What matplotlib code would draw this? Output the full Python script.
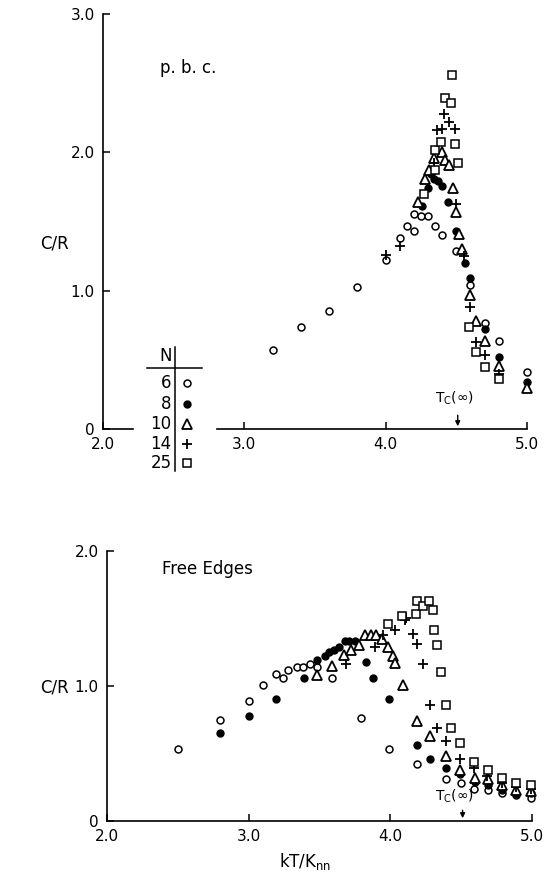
import matplotlib
matplotlib.use("Agg")
import matplotlib.pyplot as plt

plt.rcParams['font.family'] = ['DejaVu Sans']

# periodic boundary conditions (top panel)
t6_x = [3.2, 3.4, 3.6, 3.8, 4.0, 4.1, 4.15, 4.2, 4.2, 4.25, 4.3, 4.35, 4.4, 4.5, 4.6, 4.7, 4.8, 5.0]
t6_y = [0.57, 0.74, 0.85, 1.03, 1.22, 1.38, 1.47, 1.555, 1.43, 1.54, 1.54, 1.47, 1.40, 1.29, 1.04, 0.77, 0.64, 0.41]
t8_x = [4.26, 4.30, 4.32, 4.34, 4.37, 4.40, 4.44, 4.50, 4.56, 4.60, 4.70, 4.80, 5.0]
t8_y = [1.61, 1.74, 1.84, 1.81, 1.79, 1.76, 1.64, 1.43, 1.20, 1.09, 0.72, 0.52, 0.34]
t10_x = [4.23, 4.28, 4.31, 4.34, 4.40, 4.42, 4.45, 4.475, 4.50, 4.52, 4.54, 4.60, 4.64, 4.70, 4.80, 5.0]
t10_y = [1.64, 1.81, 1.87, 1.96, 2.00, 1.945, 1.91, 1.74, 1.57, 1.41, 1.30, 0.97, 0.78, 0.64, 0.455, 0.30]
t14_x = [4.0, 4.1, 4.34, 4.36, 4.40, 4.41, 4.45, 4.49, 4.50, 4.555, 4.60, 4.64, 4.70, 4.80]
t14_y = [1.26, 1.325, 1.92, 2.16, 2.17, 2.28, 2.22, 2.17, 1.63, 1.25, 0.88, 0.63, 0.535, 0.40]
t25_x = [4.27, 4.35, 4.35, 4.39, 4.42, 4.46, 4.47, 4.49, 4.51, 4.59, 4.64, 4.70, 4.80]
t25_y = [1.70, 1.87, 2.02, 2.075, 2.39, 2.36, 2.56, 2.06, 1.92, 0.735, 0.56, 0.45, 0.365]

# free edges (bottom panel)
b6_x = [2.5, 2.8, 3.0, 3.1, 3.19, 3.24, 3.28, 3.34, 3.38, 3.43, 3.48, 3.59, 3.79, 3.99,
        4.19, 4.39, 4.5, 4.59, 4.69, 4.79, 4.89, 4.99]
b6_y = [0.53, 0.75, 0.89, 1.01, 1.09, 1.06, 1.12, 1.14, 1.14, 1.165, 1.14, 1.06, 0.76, 0.53,
        0.42, 0.31, 0.28, 0.24, 0.23, 0.205, 0.19, 0.17]
b8_x = [2.8, 3.0, 3.19, 3.39, 3.48, 3.54, 3.57, 3.60, 3.64, 3.68, 3.71, 3.75, 3.83, 3.88, 3.99,
        4.19, 4.28, 4.39, 4.49, 4.6, 4.69, 4.79, 4.89, 4.99]
b8_y = [0.65, 0.78, 0.90, 1.06, 1.19, 1.22, 1.25, 1.27, 1.29, 1.33, 1.335, 1.335, 1.175, 1.06, 0.90,
        0.56, 0.46, 0.39, 0.35, 0.29, 0.27, 0.23, 0.20, 0.21]
b10_x = [3.48, 3.59, 3.67, 3.72, 3.78, 3.82, 3.86, 3.90, 3.94, 3.98, 4.02, 4.03, 4.09, 4.19,
         4.28, 4.39, 4.49, 4.6, 4.69, 4.79, 4.89, 4.99]
b10_y = [1.08, 1.15, 1.23, 1.27, 1.30, 1.38, 1.38, 1.38, 1.35, 1.29, 1.22, 1.17, 1.005, 0.74,
         0.63, 0.48, 0.38, 0.32, 0.31, 0.27, 0.23, 0.22]
b14_x = [3.69, 3.89, 3.945, 4.03, 4.10, 4.11, 4.16, 4.19, 4.23, 4.28, 4.33, 4.39, 4.49, 4.59,
         4.68, 4.79, 4.89, 4.99]
b14_y = [1.16, 1.29, 1.38, 1.415, 1.49, 1.50, 1.385, 1.31, 1.16, 0.86, 0.69, 0.595, 0.46, 0.39,
         0.33, 0.28, 0.25, 0.235]
b25_x = [3.98, 4.08, 4.18, 4.19, 4.23, 4.27, 4.30, 4.31, 4.33, 4.36, 4.39, 4.43, 4.49, 4.59,
         4.69, 4.79, 4.89, 4.99]
b25_y = [1.46, 1.52, 1.53, 1.63, 1.59, 1.63, 1.56, 1.415, 1.30, 1.10, 0.86, 0.69, 0.575, 0.44,
         0.38, 0.32, 0.28, 0.27]

sizes = ["6", "8", "10", "14", "25"]
tc = 4.51

# marker styles per lattice size
estilos = [
    dict(marker="o", mfc="white", mec="black", ms=5, mew=1.1),
    dict(marker="o", mfc="black", mec="black", ms=5, mew=1.0),
    dict(marker="^", mfc="white", mec="black", ms=7, mew=1.3),
    dict(marker="+", mfc="none", mec="black", ms=7, mew=1.3),
    dict(marker="s", mfc="white", mec="black", ms=6, mew=1.1),
]

fig = plt.figure(figsize=(5.47, 8.81), dpi=100)
ax1 = fig.add_axes([0.1883, 0.5130, 0.7751, 0.4711])
ax2 = fig.add_axes([0.1956, 0.0681, 0.7770, 0.3065])


def estilo_ejes(ax, ymax):
    ax.set_xlim(2.0, 5.0)
    ax.set_ylim(0, ymax)
    for s in ["top", "right"]:
        ax.spines[s].set_visible(False)
    for s in ["left", "bottom"]:
        ax.spines[s].set_linewidth(1.2)
    ax.set_xticks([2.0, 3.0, 4.0, 5.0])
    ax.set_xticklabels(["2.0", "3.0", "4.0", "5.0"])
    yt = list(range(0, int(ymax) + 1))
    ax.set_yticks(yt)
    ax.set_yticklabels(["0"] + ["%.1f" % v for v in yt[1:]])
    ax.tick_params(direction="in", length=5, width=1.1, labelsize=11, pad=6)


estilo_ejes(ax1, 3.0)
estilo_ejes(ax2, 2.0)

datos_top = [(t6_x, t6_y), (t8_x, t8_y), (t10_x, t10_y), (t14_x, t14_y), (t25_x, t25_y)]
datos_bot = [(b6_x, b6_y), (b8_x, b8_y), (b10_x, b10_y), (b14_x, b14_y), (b25_x, b25_y)]
for (x, y), st in zip(datos_top, estilos):
    ax1.plot(x, y, ls="none", clip_on=False, **st)
for (x, y), st in zip(datos_bot, estilos):
    ax2.plot(x, y, ls="none", clip_on=False, **st)

# top x axis is broken by the legend table
ax1.spines["bottom"].set_visible(False)
ax1.plot([2.0, 2.21], [0, 0], color="black", lw=1.2, clip_on=False)
ax1.plot([2.807, 5.0], [0, 0], color="black", lw=1.2, clip_on=False)

# legend table
ax1.plot([2.51, 2.51], [0.59, -0.30], color="black", lw=1.1, clip_on=False)
ax1.plot([2.31, 2.70], [0.44, 0.44], color="black", lw=1.1, clip_on=False)
ax1.text(2.44, 0.525, "N", ha="center", va="center", fontsize=12)
filas = [0.333, 0.181, 0.036, -0.108, -0.246]
for lab, yy, st in zip(sizes, filas, estilos):
    ax1.text(2.485, yy, lab, ha="right", va="center", fontsize=12, clip_on=False)
    ax1.plot([2.595], [yy], ls="none", clip_on=False, **st)

ax1.text(2.40, 2.61, "p. b. c.", fontsize=12, va="center")
ax2.text(2.39, 1.87, "Free Edges", fontsize=12, va="center")

fig.text(0.100, 1 - 243 / 881, "C/R", fontsize=12, ha="center", va="center")
fig.text(0.100, 1 - 688 / 881, "C/R", fontsize=12, ha="center", va="center")

ax1.annotate("", xy=(tc, 0), xytext=(tc, 0.12),
             arrowprops=dict(arrowstyle="-|>", color="black", lw=1.0, mutation_scale=7))
ax1.text(tc - 0.02, 0.16, r"T$_{\rm C}$(∞)", ha="center", va="bottom", fontsize=10)
ax2.annotate("", xy=(tc, 0), xytext=(tc, 0.10),
             arrowprops=dict(arrowstyle="-|>", color="black", lw=1.0, mutation_scale=7))
ax2.text(tc - 0.06, 0.12, r"T$_{\rm C}$(∞)", ha="center", va="bottom", fontsize=10)

fig.text(0.557, 0.022, r"kT/K$_{\rm nn}$", ha="center", va="center", fontsize=12)

fig.savefig("out.png", dpi=100)
